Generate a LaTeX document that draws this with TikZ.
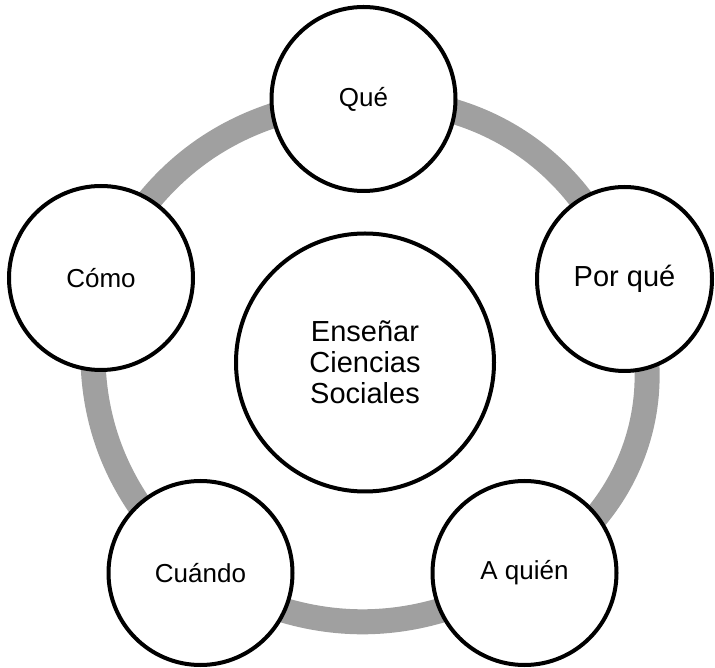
\documentclass[tikz,border=0pt]{standalone}
\usepackage{fontspec}
\setmainfont{Liberation Sans}
\usetikzlibrary{backgrounds,shapes.geometric}
\definecolor{ringgray}{RGB}{160,160,160}
\begin{document}
\begin{tikzpicture}[x=1pt,y=1pt,
  bubble/.style={circle,draw=black,line width=4pt,fill=white,minimum size=184pt,inner sep=0pt,font=\fontsize{26}{30}\selectfont},
  wide/.style={ellipse,draw=black,line width=4pt,fill=white,minimum width=175pt,minimum height=184pt,inner sep=0pt,font=\fontsize{29}{32}\selectfont},
  hub/.style={circle,draw=black,line width=4pt,fill=white,minimum size=258pt,inner sep=0pt,align=center,font=\fontsize{29}{31}\selectfont},
  ring/.style={draw=ringgray,line width=25pt}]
\useasboundingbox (0,0) rectangle (715,667);
\node[hub] (center) at (365,304.5) {Enseñar\\Ciencias\\Sociales};
\node[bubble] (que) at (363.5,568) {Qué};
\node[wide] (porque) at (624.5,388) {Por qué};
\node[bubble] (aquien) at (524.5,94) {A quién};
\node[bubble] (cuando) at (200.5,94) {Cuándo};
\node[bubble] (como) at (101,389) {Cómo};
\begin{scope}[on background layer]
\draw[ring] (que.center) to[bend left=35] (porque.center);
\draw[ring] (porque.center) to[bend left=45] (aquien.center);
\draw[ring] (aquien.center) to[bend left=31] (cuando.center);
\draw[ring] (cuando.center) to[bend left=30.5] (como.center);
\draw[ring] (como.center) to[bend left=31] (que.center);
\end{scope}
\end{tikzpicture}
\end{document}
